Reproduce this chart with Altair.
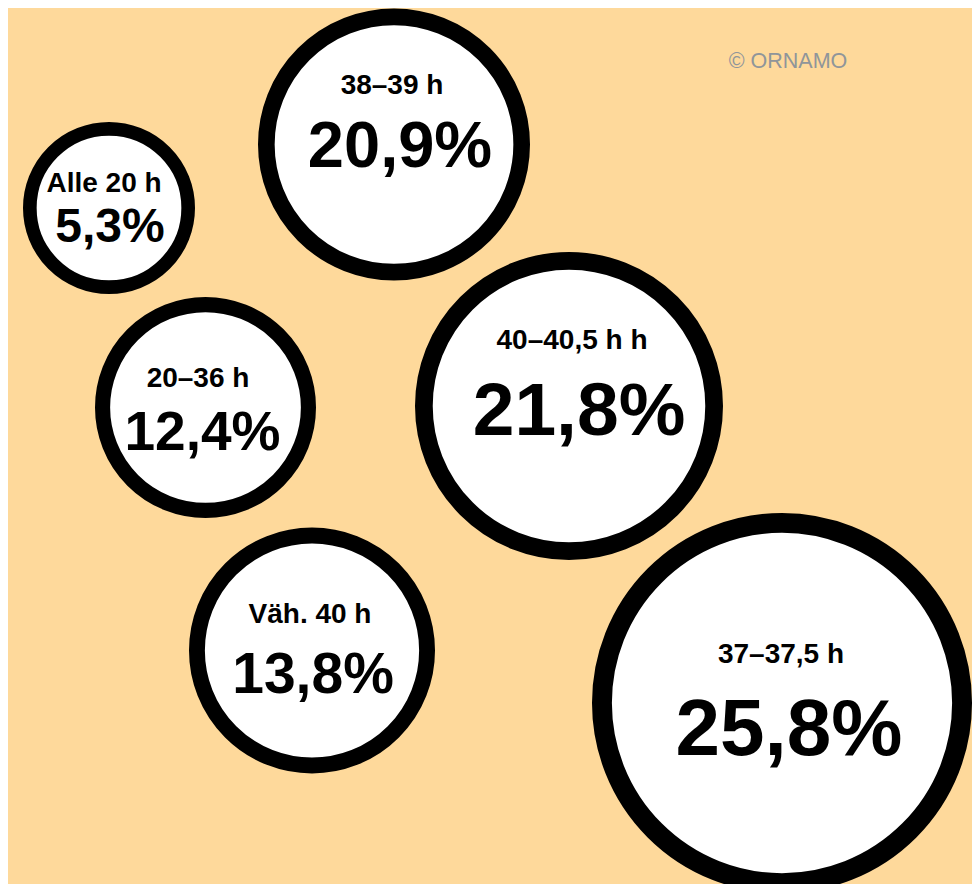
import altair as alt
import pandas as pd

# ---- chart values ----
categories = ["Alle 20 h", "20–36 h", "Väh. 40 h", "37–37,5 h", "38–39 h", "40–40,5 h h"]
values = [5.3, 12.4, 13.8, 25.8, 20.9, 21.8]
value_labels = ["5,3%", "12,4%", "13,8%", "25,8%", "20,9%", "21,8%"]
credit = ["© ORNAMO"]

# ---- packed-bubble layout (layout units = screen pixels) ----
bubble_x = [109, 205.5, 312, 782, 394, 569]
bubble_y = [208, 407.5, 650.5, 703, 144.5, 406]
bubble_r = [86, 110.5, 123, 190, 136, 154]
label_x = [104, 198, 310, 781, 392, 572]
label_y = [192, 387, 623, 663, 94, 349]
value_x = [110, 202.5, 313, 789, 400, 579]
value_y = [242, 450, 693, 755, 167, 435]
value_font = [48, 55, 57, 80, 65, 75]
credit_x = [788]
credit_y = [68]

df = pd.DataFrame({
    "category": categories, "value": values, "value_label": value_labels,
    "bx": bubble_x, "by": bubble_y, "r": bubble_r,
    "lx": label_x, "ly": label_y, "vx": value_x, "vy": value_y, "vf": value_font,
})
credit_df = pd.DataFrame({"text": credit, "cx": credit_x, "cy": credit_y})

W, H = 964, 876
xs = alt.Scale(domain=[8, 8 + W], nice=False, zero=False)
ys = alt.Scale(domain=[8, 8 + H], nice=False, zero=False, reverse=True)

base = alt.Chart(df)

circles = base.transform_calculate(
    sw="0.06 * datum.r + 8.5"
).transform_calculate(
    rp="datum.r - datum.sw / 2"
).transform_calculate(
    sz="4 * datum.rp * datum.rp"
).mark_circle(fill="white", stroke="black", opacity=1, strokeOpacity=1, fillOpacity=1).encode(
    x=alt.X("bx:Q", scale=xs, axis=None),
    y=alt.Y("by:Q", scale=ys, axis=None),
    size=alt.Size("sz:Q", scale=None, legend=None),
    strokeWidth=alt.StrokeWidth("sw:Q", scale=None, legend=None),
    tooltip=["category:N", "value:Q"],
)

labels = base.mark_text(
    font="Liberation Sans", fontWeight="bold", fontSize=28, color="black",
    align="center", baseline="alphabetic"
).encode(
    x=alt.X("lx:Q", scale=xs, axis=None),
    y=alt.Y("ly:Q", scale=ys, axis=None),
    text="category:N",
)

vals = base.mark_text(
    font="Liberation Sans", fontWeight="bold", color="black",
    align="center", baseline="alphabetic"
).encode(
    x=alt.X("vx:Q", scale=xs, axis=None),
    y=alt.Y("vy:Q", scale=ys, axis=None),
    text="value_label:N",
    size=alt.Size("vf:Q", scale=None, legend=None),
)

credit_txt = alt.Chart(credit_df).mark_text(
    font="Liberation Sans", fontSize=21.5, color="#8f959a",
    align="center", baseline="alphabetic"
).encode(
    x=alt.X("cx:Q", scale=xs, axis=None),
    y=alt.Y("cy:Q", scale=ys, axis=None),
    text="text:N",
)

chart = alt.layer(circles, labels, vals, credit_txt).properties(
    width=W, height=H, autosize="none", padding=0, background="#FED99B"
).configure_view(stroke=None)

chart.save("out.html", embed_options={"renderer": "svg", "actions": False})
